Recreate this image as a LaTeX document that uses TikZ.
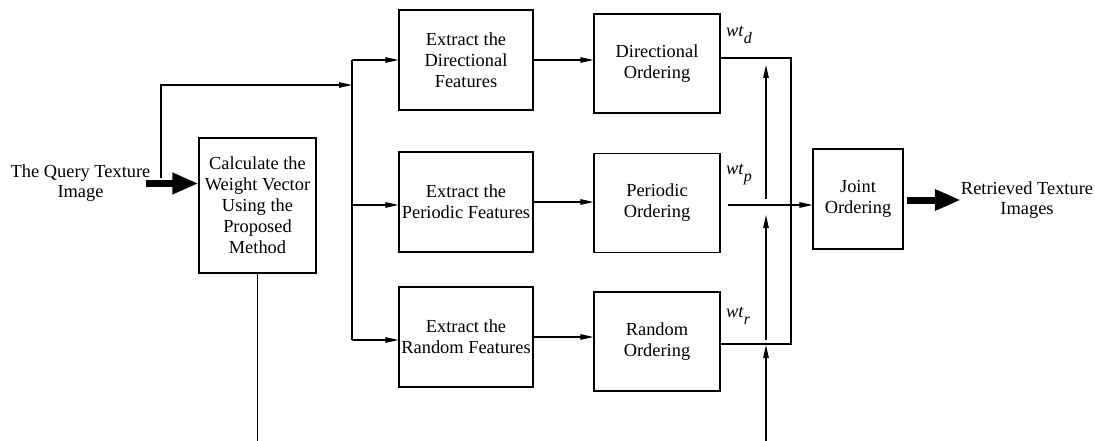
\documentclass[tikz,border=0pt]{standalone}
\usepackage{fontspec}
\setmainfont{Liberation Serif}
\usetikzlibrary{arrows.meta}
\newcommand{\wtlab}[1]{\textit{wt}\raisebox{-7pt}{\fontsize{16}{16}\selectfont\textit{#1}}}
\begin{document}
\begin{tikzpicture}[x=1pt,y=-1pt,
  txt/.style={inner sep=0pt, align=center, font=\fontsize{18.4}{21}\selectfont},
  box/.style={txt, draw, line width=1.1pt},
  extbox/.style={box, minimum width=134pt, minimum height=100pt},
  ordbox/.style={box, minimum width=126pt, minimum height=99pt},
  wire/.style={line width=1.1pt},
  conn/.style={wire, -{Triangle[length=13pt,width=5.5pt]}},
  bigarrow/.style={line width=7pt, -{Triangle[length=26pt,width=20pt]}},
  wtl/.style={inner sep=0pt, anchor=base west, font=\fontsize{18.4}{21}\selectfont}
]
\useasboundingbox (0,0) rectangle (1095,441);

% nodes
\node[txt] (query) at (80.5,183) {The Query Texture\\[-1pt]Image};
\node[box, minimum width=117pt, minimum height=135pt] (calc) at (257.5,205.5)
  {Calculate the\\Weight Vector\\Using the\\Proposed\\Method};
\node[extbox] (dext) at (466,60) {Extract the\\Directional\\Features};
\node[ordbox] (dord) at (657,63.5) {Directional\\Ordering};
\node[extbox] (pext) at (466,202) {Extract the\\Periodic Features};
\node[ordbox] (pord) at (657,203) {Periodic\\Ordering};
\node[extbox] (rext) at (466,337) {Extract the\\Random Features};
\node[ordbox] (rord) at (657,341.5) {Random\\Ordering};
\node[box, minimum width=90pt, minimum height=100pt] (joint) at (858,199) {Joint\\Ordering};
\node[txt] (ret) at (1027,200) {Retrieved Texture\\[-1pt]Images};

\node[wtl] (wd) at (726,37) {\wtlab{d}};
\node[wtl] (wp) at (726,175) {\wtlab{p}};
\node[wtl] (wr) at (726,317) {\wtlab{r}};

% coordinates
\coordinate (q0) at (161,178);
\coordinate (qa) at (146,183.5);
\coordinate (bq) at (352,85);
\coordinate (bt) at (352,60);
\coordinate (bp) at (352,205);
\coordinate (bb) at (352,340);
\coordinate (ca) at (791,58);
\coordinate (cb) at (791,344);
\coordinate (pp) at (728,205);
\coordinate (v0) at (766,441);
\coordinate (v1) at (766,345);
\coordinate (v2) at (766,340);
\coordinate (v3) at (766,215);
\coordinate (v4) at (766,199);
\coordinate (v5) at (766,65);
\coordinate (cbot) at (257.5,441);
\coordinate (rs) at (907,200);

% connectors
\draw[bigarrow] (qa) -- (qa -| calc.west);
\draw[conn] (q0) |- (bq);
\draw[wire] (bt) -- (bb);
\draw[conn] (bt) -- (bt -| dext.west);
\draw[conn] (bp) -- (bp -| pext.west);
\draw[conn] (bb) -- (bb -| rext.west);
\draw[conn] (dext.east) -- (dext.east -| dord.west);
\draw[conn] (pext.east) -- (pext.east -| pord.west);
\draw[conn] (rext.east) -- (rext.east -| rord.west);
\draw[wire] (ca -| dord.east) -- (ca) -- (cb) -- (cb -| rord.east);
\draw[conn] (pp) -- (pp -| joint.west);
\draw[conn] (v0) -- (v1);
\draw[conn] (v2) -- (v3);
\draw[conn] (v4) -- (v5);
\draw[wire] (calc.south) -- (cbot);
\draw[bigarrow] (rs) -- (rs -| ret.west);
\end{tikzpicture}
\end{document}
